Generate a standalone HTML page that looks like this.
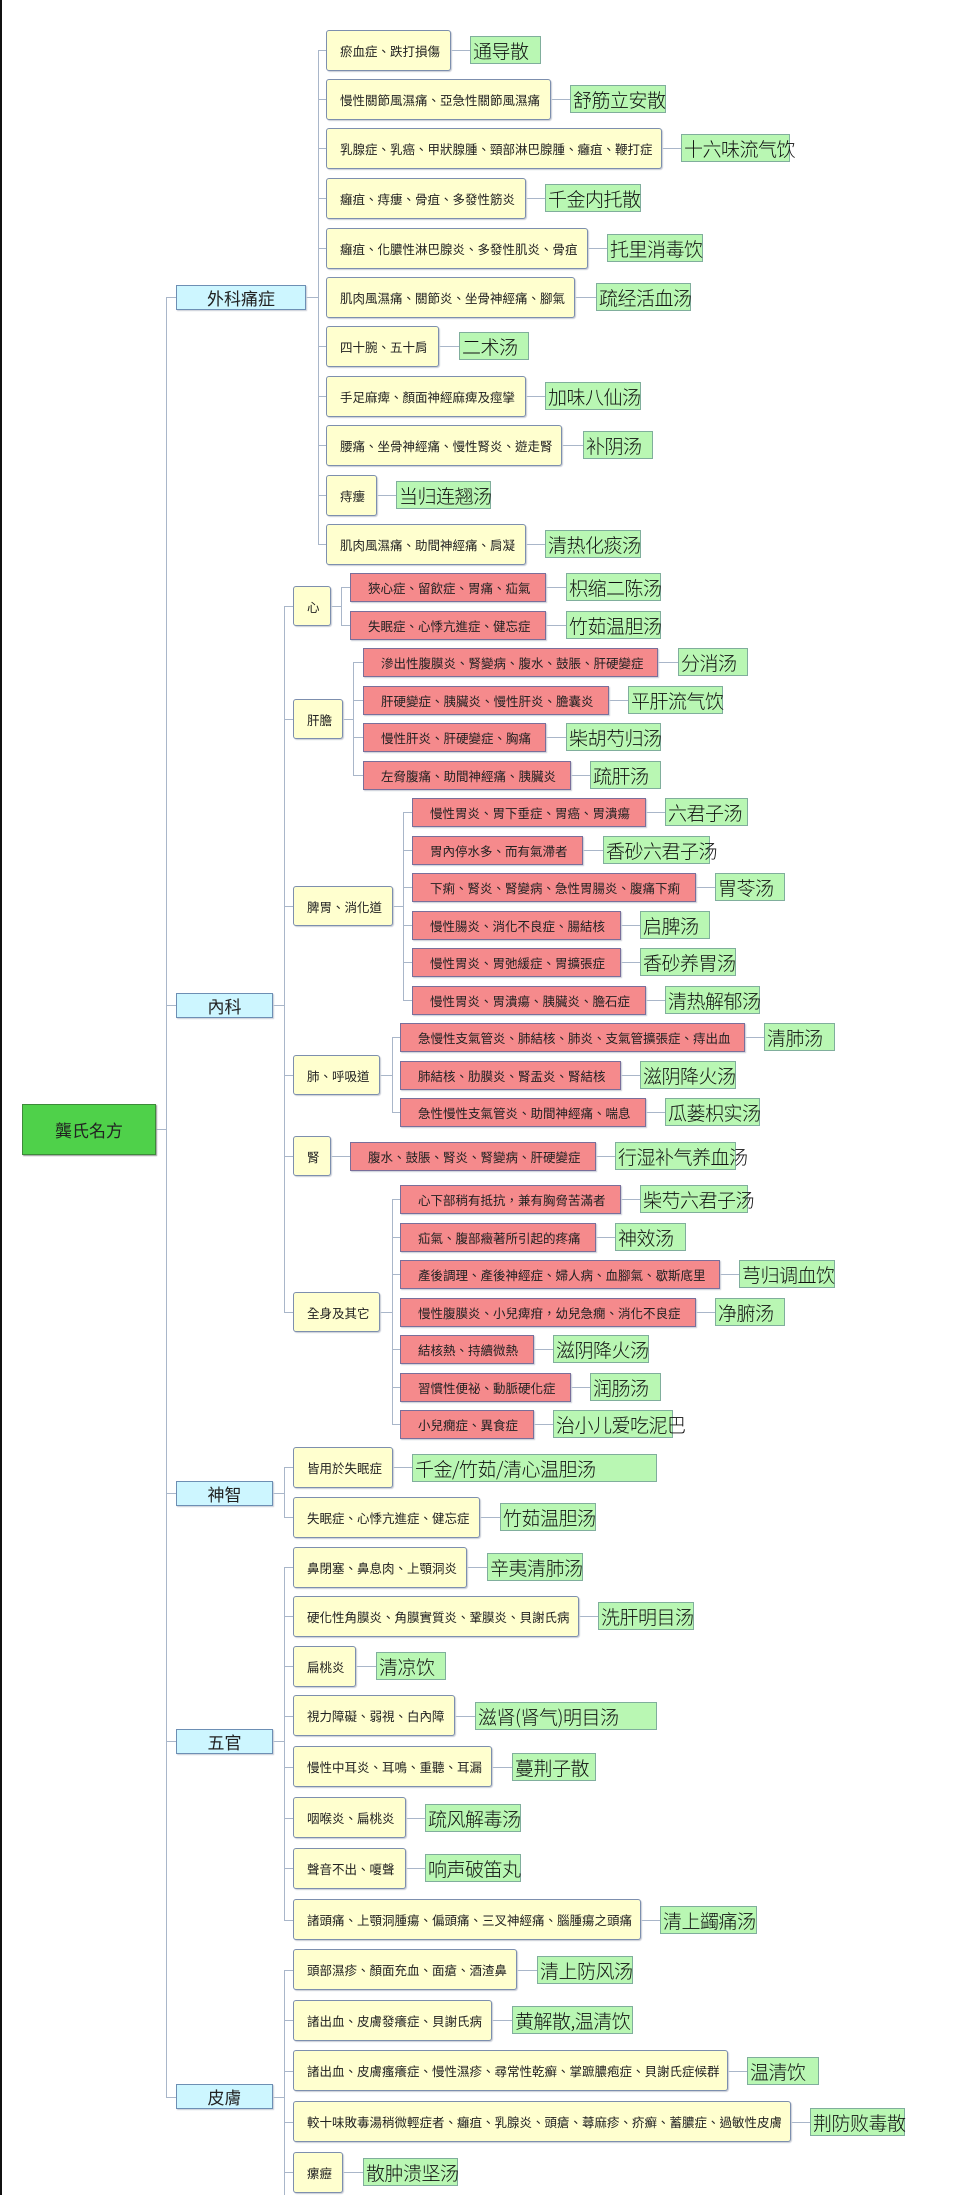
<!DOCTYPE html>
<html><head><meta charset="utf-8"><style>
body{margin:0;width:962px;height:2195px;background:#fff;position:relative;overflow:hidden;font-family:"Liberation Sans","Noto Sans CJK TC",sans-serif}
.b{position:absolute;box-sizing:border-box;display:flex;align-items:center;white-space:nowrap;color:#222;font-size:12.5px}
.y{height:41px;background:#ffffcf;border:1.5px solid #7d8fae;border-radius:3px;padding-left:13px;box-shadow:1px 1px 1px #c9cdd6}
.s{height:40px}
.r{height:29px;background:#f58a8c;border:1.5px solid #7a6f9a;padding-left:17px;box-shadow:1px 1px 1px #c9cdd6}
.g{height:28px;background:#b9f7b3;border:1px solid #80ae9c;padding-left:2px;font-family:"Noto Sans CJK SC","WenQuanYi Zen Hei",sans-serif;font-size:19px;letter-spacing:-0.5px;font-weight:300;color:#111;overflow:visible}
.c{height:25px;background:#cdf6ff;border:1.5px solid #6d8fb4;justify-content:center;font-size:17px;box-shadow:1px 1px 1px #c9cdd6}
i{position:absolute;background:#a9b6c9;display:block}
.h{height:1px}.v{width:1px}
</style></head><body>
<div style="position:absolute;left:0;top:0;width:2px;height:2195px;background:#111"></div>
<i class="h" style="left:156px;top:1129px;width:10px"></i>
<i class="v" style="left:166px;top:297px;height:1800px"></i>
<i class="h" style="left:166px;top:297px;width:10px"></i><i class="h" style="left:166px;top:1005px;width:10px"></i><i class="h" style="left:166px;top:1493px;width:10px"></i><i class="h" style="left:166px;top:1741px;width:10px"></i><i class="h" style="left:166px;top:2097px;width:10px"></i>
<i class="h" style="left:306px;top:297px;width:12px"></i>
<i class="v" style="left:318px;top:50px;height:494px"></i>
<i class="h" style="left:318px;top:50px;width:8px"></i><i class="h" style="left:318px;top:99px;width:8px"></i><i class="h" style="left:318px;top:148px;width:8px"></i><i class="h" style="left:318px;top:198px;width:8px"></i><i class="h" style="left:318px;top:248px;width:8px"></i><i class="h" style="left:318px;top:346px;width:8px"></i><i class="h" style="left:318px;top:396px;width:8px"></i><i class="h" style="left:318px;top:445px;width:8px"></i><i class="h" style="left:318px;top:495px;width:8px"></i><i class="h" style="left:318px;top:544px;width:8px"></i>
<i class="h" style="left:451px;top:50px;width:19px"></i><i class="h" style="left:551px;top:99px;width:19px"></i><i class="h" style="left:662px;top:148px;width:19px"></i><i class="h" style="left:526px;top:198px;width:19px"></i><i class="h" style="left:588px;top:248px;width:19px"></i><i class="h" style="left:575px;top:297px;width:21px"></i><i class="h" style="left:439px;top:346px;width:20px"></i><i class="h" style="left:526px;top:396px;width:19px"></i><i class="h" style="left:562px;top:445px;width:21px"></i><i class="h" style="left:377px;top:495px;width:19px"></i><i class="h" style="left:526px;top:544px;width:19px"></i>
<i class="h" style="left:273px;top:1005px;width:11px"></i>
<i class="v" style="left:284px;top:606px;height:706px"></i>
<i class="h" style="left:284px;top:606px;width:9px"></i><i class="h" style="left:284px;top:719px;width:9px"></i><i class="h" style="left:284px;top:906px;width:9px"></i><i class="h" style="left:284px;top:1075px;width:9px"></i><i class="h" style="left:284px;top:1156px;width:9px"></i><i class="h" style="left:284px;top:1312px;width:9px"></i>
<i class="h" style="left:331px;top:606px;width:10px"></i><i class="v" style="left:341px;top:587px;height:39px"></i><i class="h" style="left:341px;top:587px;width:9px"></i><i class="h" style="left:341px;top:625px;width:9px"></i>
<i class="h" style="left:546px;top:587px;width:20px"></i><i class="h" style="left:546px;top:625px;width:20px"></i>
<i class="h" style="left:343px;top:719px;width:10px"></i><i class="v" style="left:353px;top:662px;height:114px"></i><i class="h" style="left:353px;top:662px;width:10px"></i><i class="h" style="left:353px;top:700px;width:10px"></i><i class="h" style="left:353px;top:737px;width:10px"></i><i class="h" style="left:353px;top:775px;width:10px"></i>
<i class="h" style="left:658px;top:662px;width:20px"></i><i class="h" style="left:609px;top:700px;width:19px"></i><i class="h" style="left:546px;top:737px;width:20px"></i><i class="h" style="left:571px;top:775px;width:19px"></i>
<i class="h" style="left:393px;top:906px;width:10px"></i><i class="v" style="left:403px;top:812px;height:189px"></i><i class="h" style="left:403px;top:812px;width:9px"></i><i class="h" style="left:403px;top:850px;width:9px"></i><i class="h" style="left:403px;top:887px;width:9px"></i><i class="h" style="left:403px;top:925px;width:9px"></i><i class="h" style="left:403px;top:962px;width:9px"></i><i class="h" style="left:403px;top:1000px;width:9px"></i>
<i class="h" style="left:646px;top:812px;width:19px"></i><i class="h" style="left:583px;top:850px;width:20px"></i><i class="h" style="left:696px;top:887px;width:19px"></i><i class="h" style="left:621px;top:925px;width:19px"></i><i class="h" style="left:621px;top:962px;width:19px"></i><i class="h" style="left:646px;top:1000px;width:19px"></i>
<i class="h" style="left:380px;top:1075px;width:12px"></i><i class="v" style="left:392px;top:1037px;height:76px"></i><i class="h" style="left:392px;top:1037px;width:8px"></i><i class="h" style="left:392px;top:1112px;width:8px"></i>
<i class="h" style="left:745px;top:1037px;width:19px"></i><i class="h" style="left:621px;top:1075px;width:19px"></i><i class="h" style="left:646px;top:1112px;width:19px"></i>
<i class="h" style="left:331px;top:1156px;width:19px"></i><i class="h" style="left:596px;top:1156px;width:19px"></i>
<i class="h" style="left:380px;top:1312px;width:12px"></i><i class="v" style="left:392px;top:1199px;height:226px"></i><i class="h" style="left:392px;top:1199px;width:8px"></i><i class="h" style="left:392px;top:1237px;width:8px"></i><i class="h" style="left:392px;top:1274px;width:8px"></i><i class="h" style="left:392px;top:1349px;width:8px"></i><i class="h" style="left:392px;top:1387px;width:8px"></i><i class="h" style="left:392px;top:1424px;width:8px"></i>
<i class="h" style="left:621px;top:1199px;width:19px"></i><i class="h" style="left:596px;top:1237px;width:19px"></i><i class="h" style="left:720px;top:1274px;width:19px"></i><i class="h" style="left:696px;top:1312px;width:19px"></i><i class="h" style="left:534px;top:1349px;width:19px"></i><i class="h" style="left:571px;top:1387px;width:19px"></i><i class="h" style="left:534px;top:1424px;width:19px"></i>
<i class="h" style="left:273px;top:1493px;width:11px"></i><i class="v" style="left:284px;top:1467px;height:51px"></i><i class="h" style="left:284px;top:1467px;width:9px"></i><i class="h" style="left:284px;top:1517px;width:9px"></i>
<i class="h" style="left:393px;top:1467px;width:19px"></i><i class="h" style="left:480px;top:1517px;width:20px"></i>
<i class="h" style="left:273px;top:1741px;width:11px"></i><i class="v" style="left:284px;top:1567px;height:353px"></i>
<i class="h" style="left:284px;top:1567px;width:9px"></i><i class="h" style="left:284px;top:1616px;width:9px"></i><i class="h" style="left:284px;top:1666px;width:9px"></i><i class="h" style="left:284px;top:1716px;width:9px"></i><i class="h" style="left:284px;top:1767px;width:9px"></i><i class="h" style="left:284px;top:1818px;width:9px"></i><i class="h" style="left:284px;top:1868px;width:9px"></i><i class="h" style="left:284px;top:1920px;width:9px"></i>
<i class="h" style="left:467px;top:1567px;width:20px"></i><i class="h" style="left:579px;top:1616px;width:19px"></i><i class="h" style="left:356px;top:1666px;width:20px"></i><i class="h" style="left:455px;top:1716px;width:20px"></i><i class="h" style="left:492px;top:1767px;width:20px"></i><i class="h" style="left:406px;top:1818px;width:19px"></i><i class="h" style="left:406px;top:1868px;width:19px"></i><i class="h" style="left:641px;top:1920px;width:19px"></i>
<i class="h" style="left:273px;top:2097px;width:11px"></i><i class="v" style="left:284px;top:1970px;height:225px"></i>
<i class="h" style="left:284px;top:1970px;width:9px"></i><i class="h" style="left:284px;top:2020px;width:9px"></i><i class="h" style="left:284px;top:2071px;width:9px"></i><i class="h" style="left:284px;top:2122px;width:9px"></i><i class="h" style="left:284px;top:2172px;width:9px"></i>
<i class="h" style="left:517px;top:1970px;width:20px"></i><i class="h" style="left:492px;top:2020px;width:20px"></i><i class="h" style="left:728px;top:2071px;width:19px"></i><i class="h" style="left:791px;top:2122px;width:19px"></i><i class="h" style="left:343px;top:2172px;width:20px"></i>

<div class="b" style="left:22px;top:1104px;width:134px;height:51px;background:#4fd14a;border:1.5px solid #3d8a3a;justify-content:center;font-size:17px;box-shadow:1px 1px 1px #999">龔氏名方</div>
<div class="b c" style="left:176px;top:285px;width:130px">外科痛症</div>
<div class="b c" style="left:176px;top:993px;width:97px">內科</div>
<div class="b c" style="left:176px;top:1481px;width:97px">神智</div>
<div class="b c" style="left:176px;top:1729px;width:97px">五官</div>
<div class="b c" style="left:176px;top:2084px;width:97px">皮膚</div>

<div class="b y" style="left:326px;top:30px;width:125px">瘀血症、跌打損傷</div><div class="b g" style="left:470px;top:36px;width:71px">通导散</div>
<div class="b y" style="left:326px;top:79px;width:225px">慢性關節風濕痛、亞急性關節風濕痛</div><div class="b g" style="left:570px;top:85px;width:96px">舒筋立安散</div>
<div class="b y" style="left:326px;top:128px;width:336px">乳腺症、乳癌、甲狀腺腫、頸部淋巴腺腫、癰疽、鞭打症</div><div class="b g" style="left:681px;top:134px;width:109px">十六味流气饮</div>
<div class="b y" style="left:326px;top:178px;width:200px">癰疽、痔瘻、骨疽、多發性筋炎</div><div class="b g" style="left:545px;top:184px;width:96px">千金内托散</div>
<div class="b y" style="left:326px;top:228px;width:262px">癰疽、化膿性淋巴腺炎、多發性肌炎、骨疽</div><div class="b g" style="left:607px;top:234px;width:96px">托里消毒饮</div>
<div class="b y" style="left:326px;top:277px;width:249px">肌肉風濕痛、關節炎、坐骨神經痛、腳氣</div><div class="b g" style="left:596px;top:283px;width:95px">疏经活血汤</div>
<div class="b y" style="left:326px;top:326px;width:113px">四十腕、五十肩</div><div class="b g" style="left:459px;top:332px;width:70px">二术汤</div>
<div class="b y" style="left:326px;top:376px;width:200px">手足麻痺、顏面神經麻痺及痙攣</div><div class="b g" style="left:545px;top:382px;width:96px">加味八仙汤</div>
<div class="b y" style="left:326px;top:425px;width:236px">腰痛、坐骨神經痛、慢性腎炎、遊走腎</div><div class="b g" style="left:583px;top:431px;width:70px">补阴汤</div>
<div class="b y" style="left:326px;top:475px;width:51px">痔瘻</div><div class="b g" style="left:396px;top:481px;width:95px">当归连翘汤</div>
<div class="b y" style="left:326px;top:524px;width:200px">肌肉風濕痛、助間神經痛、肩凝</div><div class="b g" style="left:545px;top:530px;width:96px">清热化痰汤</div>

<div class="b y s" style="left:293px;top:586px;width:38px">心</div>
<div class="b y s" style="left:293px;top:699px;width:50px">肝膽</div>
<div class="b y s" style="left:293px;top:886px;width:100px">脾胃、消化道</div>
<div class="b y s" style="left:293px;top:1055px;width:87px">肺、呼吸道</div>
<div class="b y s" style="left:293px;top:1136px;width:38px">腎</div>
<div class="b y s" style="left:293px;top:1292px;width:87px">全身及其它</div>

<div class="b r" style="left:350px;top:573px;width:196px">狹心症、留飲症、胃痛、疝氣</div><div class="b g" style="left:566px;top:573px;width:95px">枳缩二陈汤</div>
<div class="b r" style="left:350px;top:611px;width:196px">失眠症、心悸亢進症、健忘症</div><div class="b g" style="left:566px;top:611px;width:95px">竹茹温胆汤</div>

<div class="b r" style="left:363px;top:648px;width:295px">滲出性腹膜炎、腎變病、腹水、鼓脹、肝硬變症</div><div class="b g" style="left:678px;top:648px;width:70px">分消汤</div>
<div class="b r" style="left:363px;top:686px;width:246px">肝硬變症、胰臟炎、慢性肝炎、膽囊炎</div><div class="b g" style="left:628px;top:686px;width:95px">平肝流气饮</div>
<div class="b r" style="left:363px;top:723px;width:183px">慢性肝炎、肝硬變症、胸痛</div><div class="b g" style="left:566px;top:723px;width:95px">柴胡芍归汤</div>
<div class="b r" style="left:363px;top:761px;width:208px">左脅腹痛、助間神經痛、胰臟炎</div><div class="b g" style="left:590px;top:761px;width:71px">疏肝汤</div>

<div class="b r" style="left:412px;top:798px;width:234px">慢性胃炎、胃下垂症、胃癌、胃潰瘍</div><div class="b g" style="left:665px;top:798px;width:83px">六君子汤</div>
<div class="b r" style="left:412px;top:836px;width:171px">胃內停水多、而有氣滯者</div><div class="b g" style="left:603px;top:836px;width:107px">香砂六君子汤</div>
<div class="b r" style="left:412px;top:873px;width:284px">下痢、腎炎、腎變病、急性胃腸炎、腹痛下痢</div><div class="b g" style="left:715px;top:873px;width:70px">胃苓汤</div>
<div class="b r" style="left:412px;top:911px;width:209px">慢性腸炎、消化不良症、腸結核</div><div class="b g" style="left:640px;top:911px;width:70px">启脾汤</div>
<div class="b r" style="left:412px;top:948px;width:209px">慢性胃炎、胃弛緩症、胃擴張症</div><div class="b g" style="left:640px;top:948px;width:96px">香砂养胃汤</div>
<div class="b r" style="left:412px;top:986px;width:234px">慢性胃炎、胃潰瘍、胰臟炎、膽石症</div><div class="b g" style="left:665px;top:986px;width:95px">清热解郁汤</div>

<div class="b r" style="left:400px;top:1023px;width:345px">急慢性支氣管炎、肺結核、肺炎、支氣管擴張症、痔出血</div><div class="b g" style="left:764px;top:1023px;width:71px">清肺汤</div>
<div class="b r" style="left:400px;top:1061px;width:221px">肺結核、肋膜炎、腎盂炎、腎結核</div><div class="b g" style="left:640px;top:1061px;width:96px">滋阴降火汤</div>
<div class="b r" style="left:400px;top:1098px;width:246px">急性慢性支氣管炎、助間神經痛、喘息</div><div class="b g" style="left:665px;top:1098px;width:95px">瓜蒌枳实汤</div>

<div class="b r" style="left:350px;top:1142px;width:246px">腹水、鼓脹、腎炎、腎變病、肝硬變症</div><div class="b g" style="left:615px;top:1142px;width:121px">行湿补气养血汤</div>

<div class="b r" style="left:400px;top:1185px;width:221px">心下部稍有抵抗，兼有胸脅苦滿者</div><div class="b g" style="left:640px;top:1185px;width:108px">柴芍六君子汤</div>
<div class="b r" style="left:400px;top:1223px;width:196px">疝氣、腹部癥著所引起的疼痛</div><div class="b g" style="left:615px;top:1223px;width:71px">神效汤</div>
<div class="b r" style="left:400px;top:1260px;width:320px">產後調理、產後神經症、婦人病、血腳氣、歇斯底里</div><div class="b g" style="left:739px;top:1260px;width:96px">芎归调血饮</div>
<div class="b r" style="left:400px;top:1298px;width:296px">慢性腹膜炎、小兒痺疳，幼兒急癇、消化不良症</div><div class="b g" style="left:715px;top:1298px;width:70px">净腑汤</div>
<div class="b r" style="left:400px;top:1335px;width:134px">結核熱、持續微熱</div><div class="b g" style="left:553px;top:1335px;width:96px">滋阴降火汤</div>
<div class="b r" style="left:400px;top:1373px;width:171px">習慣性便祕、動脈硬化症</div><div class="b g" style="left:590px;top:1373px;width:71px">润肠汤</div>
<div class="b r" style="left:400px;top:1410px;width:134px">小兒癇症、異食症</div><div class="b g" style="left:553px;top:1410px;width:120px">治小儿爱吃泥巴</div>

<div class="b y" style="left:293px;top:1447px;width:100px">皆用於失眠症</div><div class="b g" style="left:412px;top:1454px;width:245px">千金/竹茹/清心温胆汤</div>
<div class="b y" style="left:293px;top:1497px;width:187px">失眠症、心悸亢進症、健忘症</div><div class="b g" style="left:500px;top:1503px;width:96px">竹茹温胆汤</div>

<div class="b y" style="left:293px;top:1547px;width:174px">鼻閉塞、鼻息肉、上顎洞炎</div><div class="b g" style="left:487px;top:1553px;width:96px">辛夷清肺汤</div>
<div class="b y" style="left:293px;top:1596px;width:286px">硬化性角膜炎、角膜實質炎、鞏膜炎、貝謝氏病</div><div class="b g" style="left:598px;top:1602px;width:96px">洗肝明目汤</div>
<div class="b y" style="left:293px;top:1646px;width:63px">扁桃炎</div><div class="b g" style="left:376px;top:1652px;width:70px">清凉饮</div>
<div class="b y" style="left:293px;top:1695px;width:162px">視力障礙、弱視、白內障</div><div class="b g" style="left:475px;top:1702px;width:182px">滋肾(肾气)明目汤</div>
<div class="b y" style="left:293px;top:1746px;width:199px">慢性中耳炎、耳鳴、重聽、耳漏</div><div class="b g" style="left:512px;top:1753px;width:84px">蔓荆子散</div>
<div class="b y" style="left:293px;top:1797px;width:113px">咽喉炎、扁桃炎</div><div class="b g" style="left:425px;top:1804px;width:96px">疏风解毒汤</div>
<div class="b y" style="left:293px;top:1848px;width:113px">聲音不出、嗄聲</div><div class="b g" style="left:425px;top:1854px;width:96px">响声破笛丸</div>
<div class="b y" style="left:293px;top:1899px;width:348px">諸頭痛、上顎洞腫瘍、偏頭痛、三叉神經痛、腦腫瘍之頭痛</div><div class="b g" style="left:660px;top:1906px;width:97px">清上蠲痛汤</div>

<div class="b y" style="left:293px;top:1949px;width:224px">頭部濕疹、顏面充血、面瘡、酒渣鼻</div><div class="b g" style="left:537px;top:1956px;width:96px">清上防风汤</div>
<div class="b y" style="left:293px;top:2000px;width:199px">諸出血、皮膚發癢症、貝謝氏病</div><div class="b g" style="left:512px;top:2006px;width:121px">黄解散,温清饮</div>
<div class="b y" style="left:293px;top:2050px;width:435px">諸出血、皮膚瘙癢症、慢性濕疹、尋常性乾癬、掌蹠膿疱症、貝謝氏症候群</div><div class="b g" style="left:747px;top:2057px;width:72px">温清饮</div>
<div class="b y" style="left:293px;top:2101px;width:498px">較十味敗毒湯稍微輕症者、癰疽、乳腺炎、頭瘡、蕁麻疹、疥癬、蓄膿症、過敏性皮膚</div><div class="b g" style="left:810px;top:2108px;width:95px">荆防败毒散</div>
<div class="b y" style="left:293px;top:2152px;width:50px">瘰癧</div><div class="b g" style="left:363px;top:2158px;width:95px">散肿溃坚汤</div>
</body></html>
